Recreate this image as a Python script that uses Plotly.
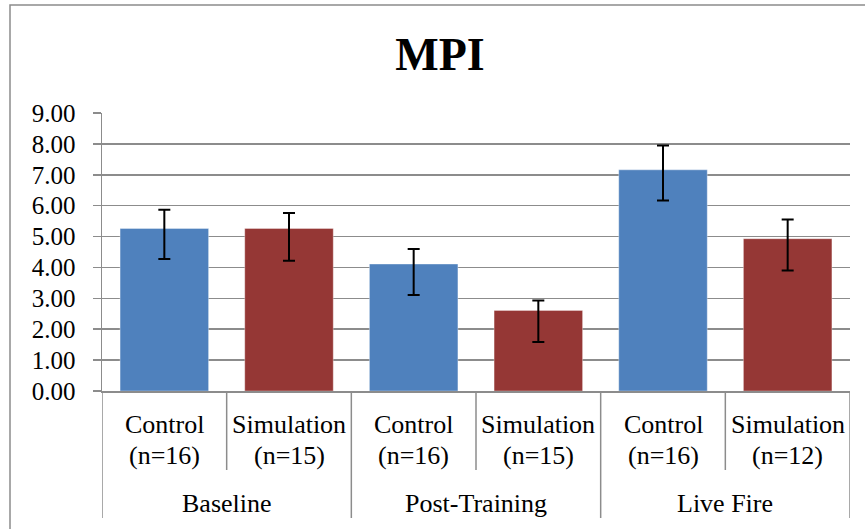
import plotly.graph_objects as go

# ---- data ----
groups = ["Baseline", "Post-Training", "Live Fire"]
conditions = ["Control", "Simulation", "Control", "Simulation", "Control", "Simulation"]
sample_sizes = ["(n=16)", "(n=15)", "(n=16)", "(n=15)", "(n=16)", "(n=12)"]
mpi_values = [5.26, 5.26, 4.11, 2.61, 7.16, 4.93]
err_plus = [0.61, 0.50, 0.49, 0.32, 0.79, 0.62]
err_minus = [0.99, 1.04, 1.00, 1.02, 0.99, 1.03]
y_tick_vals = [0, 1, 2, 3, 4, 5, 6, 7, 8, 9]
y_tick_text = ["0.00", "1.00", "2.00", "3.00", "4.00", "5.00", "6.00", "7.00", "8.00", "9.00"]

BLUE = "#4F81BD"
RED = "#953735"
bar_colors = [BLUE if c == "Control" else RED for c in conditions]

W, H = 865, 529
ML, MR, MT, MB = 102, 15, 113, 138
PW, PH = W - ML - MR, H - MT - MB
GRID = "#8c8c8c"
FONT = "Liberation Serif, Times New Roman, Tinos, DejaVu Serif, serif"


def px_x(px):
    return (px - ML) / PW


def px_y(py):
    return (H - MB - py) / PH


xpos = list(range(len(mpi_values)))

fig = go.Figure()
fig.add_trace(go.Bar(
    x=xpos, y=mpi_values,
    marker=dict(color=bar_colors, line=dict(color="rgba(255,255,255,0.35)", width=1)),
    error_y=dict(type="data", symmetric=False, array=err_plus, arrayminus=err_minus,
                 color="black", thickness=2, width=6),
    showlegend=False, hoverinfo="skip",
))

shapes = []
annotations = []
# inner dividers (between bars within group)
for g in range(len(groups)):
    xb = 2 * g + 0.5
    shapes.append(dict(type="line", xref="x", yref="paper", x0=xb, x1=xb,
                       y0=0, y1=px_y(470), line=dict(color=GRID, width=1.5)))
# group dividers
for g in range(len(groups) + 1):
    xb = 2 * g - 0.5
    shapes.append(dict(type="line", xref="x", yref="paper", x0=xb, x1=xb,
                       y0=0, y1=px_y(518), line=dict(color=GRID, width=1.5)))
# outer frame
shapes.append(dict(type="rect", xref="paper", yref="paper",
                   x0=px_x(10), x1=px_x(870), y0=px_y(5), y1=px_y(540),
                   line=dict(color=GRID, width=1.5), fillcolor="rgba(0,0,0,0)", layer="below"))

LABEL_FONT = dict(family=FONT, size=26, color="black")
for i, (c, n) in enumerate(zip(conditions, sample_sizes)):
    annotations.append(dict(x=i, xref="x", y=px_y(424), yref="paper", text=c,
                            showarrow=False, yanchor="middle", xanchor="center",
                            font=LABEL_FONT))
    annotations.append(dict(x=i, xref="x", y=px_y(456), yref="paper", text=n,
                            showarrow=False, yanchor="middle", xanchor="center",
                            font=LABEL_FONT))
for g, name in enumerate(groups):
    annotations.append(dict(x=2 * g + 0.5, xref="x", y=px_y(503), yref="paper", text=name,
                            showarrow=False, yanchor="middle", xanchor="center",
                            font=LABEL_FONT))

fig.update_layout(
    width=W, height=H,
    margin=dict(l=ML, r=MR, t=MT, b=MB),
    paper_bgcolor="white", plot_bgcolor="white",
    bargap=0.29,
    font=dict(family=FONT),
    title=dict(text="<b>MPI</b>", x=440 / W, xanchor="center", y=1 - 54 / H, yanchor="middle",
               font=dict(family=FONT, size=46, color="black")),
    xaxis=dict(range=[-0.5, 5.5], showticklabels=False, showgrid=False, zeroline=False,
               showline=True, linecolor=GRID, linewidth=1.5, ticks=""),
    yaxis=dict(range=[0, 9], tickvals=y_tick_vals, ticktext=y_tick_text,
               showgrid=True, gridcolor=GRID, gridwidth=1.5, zeroline=False,
               showline=True, linecolor=GRID, linewidth=1.5,
               ticks="outside", ticklen=8, tickcolor=GRID, tickwidth=1.5,
               ticklabelstandoff=12,
               tickfont=dict(family=FONT, size=25, color="black")),
    shapes=shapes,
    annotations=annotations,
)

fig.write_html("out.html", config={"displayModeBar": False, "staticPlot": True},
               post_script="document.body.style.margin='0';document.body.style.overflow='hidden';")
